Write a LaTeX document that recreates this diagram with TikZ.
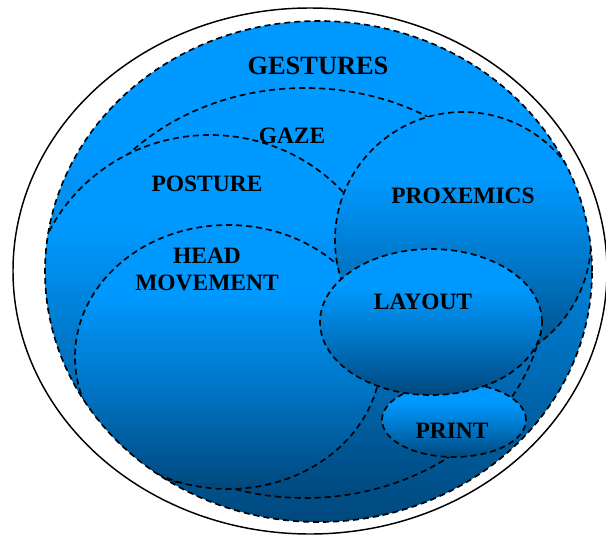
\documentclass[tikz,border=0pt]{standalone}
\usepackage{fontspec}
\setmainfont{Liberation Serif}
\definecolor{zonebright}{RGB}{0,153,255}
\definecolor{zonedark}{RGB}{0,72,125}
\pgfdeclareverticalshading{zonefill}{100bp}{color(0bp)=(zonedark); color(25bp)=(zonedark); color(44bp)=(zonebright!55!zonedark); color(62bp)=(zonebright); color(100bp)=(zonebright)}
\tikzset{
  frame/.style={draw=black, line width=1.1pt},
  zone/.style={shading=zonefill, draw=black, line width=1.25pt, dash pattern=on 4.5pt off 3pt},
  zoneline/.style={draw=black, line width=1.25pt, dash pattern=on 4.5pt off 3pt},
  tag/.style={font=\bfseries\fontsize{17.6}{20.3}\selectfont, align=center, inner sep=0pt},
  title/.style={tag, font=\bfseries\fontsize{19.8}{22}\selectfont}
}

\begin{document}
\begin{tikzpicture}[x=0.75pt,y=0.75pt]
  \useasboundingbox (0,0) rectangle (606,-535);
  \draw[frame] (310,-271) ellipse [x radius=297, y radius=263];
  \path[shading=zonefill] (318.5,-271.5) ellipse [x radius=273.5, y radius=250.5];
  \begin{scope}
    \clip (318.5,-271.5) ellipse [x radius=273.5, y radius=250.5];
    \path[zone] (305,-293) ellipse [x radius=240, y radius=205];
    \path[zone] (210,-310) ellipse [x radius=180, y radius=175];
    \path[zone] (228,-357) ellipse [x radius=153, y radius=132];
    \path[zone] (463,-240) ellipse [x radius=128, y radius=128];
    \path[zone] (454,-420) ellipse [x radius=72, y radius=37];
    \path[zone] (431,-322) ellipse [x radius=111, y radius=73];
  \end{scope}
  \path[zoneline] (318.5,-271.5) ellipse [x radius=273.5, y radius=250.5];
  \node[title] (gestures) at (318,-66) {GESTURES};
  \node[tag] (gaze) at (292,-136) {GAZE};
  \node[tag] (posture) at (207,-184) {POSTURE};
  \node[tag] (head) at (207,-269.5) {HEAD\\MOVEMENT};
  \node[tag] (proxemics) at (463,-196) {PROXEMICS};
  \node[tag] (layout) at (423,-302) {LAYOUT};
  \node[tag] (print) at (452,-431) {PRINT};
\end{tikzpicture}
\end{document}
